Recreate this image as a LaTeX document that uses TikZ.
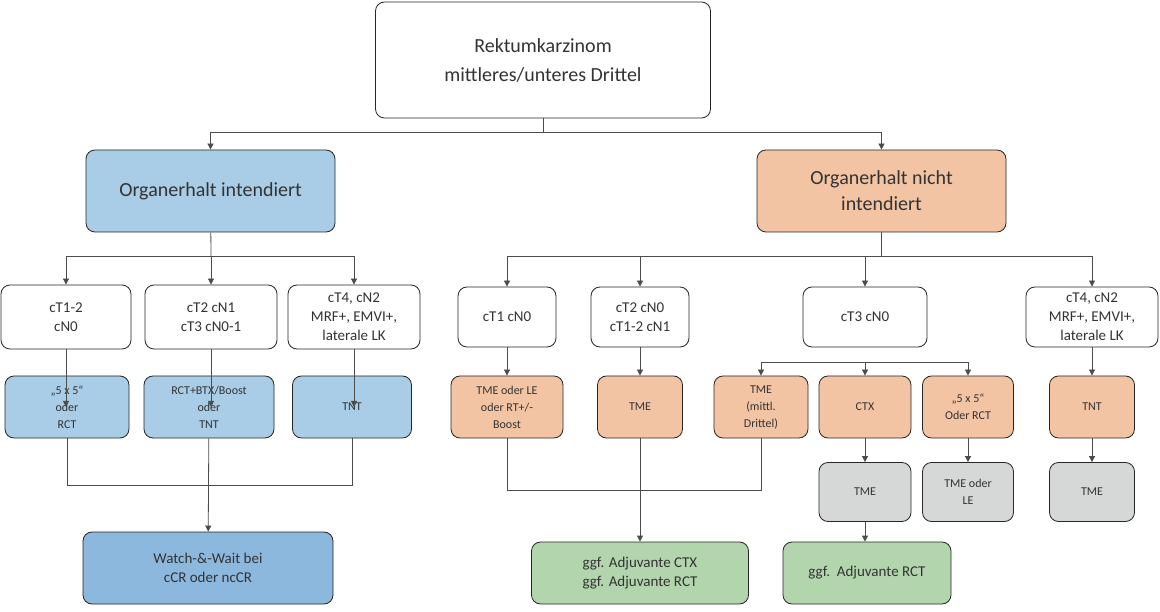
\documentclass[tikz,border=0pt]{standalone}
\usepackage{fontspec}
\setmainfont{Carlito}
\usetikzlibrary{arrows.meta}
\definecolor{lblue}{HTML}{A9CDE6}
\definecolor{dblue}{HTML}{8DB8DD}
\definecolor{salmon}{HTML}{F3C4A4}
\definecolor{lgray}{HTML}{D6D7D7}
\definecolor{lgreen}{HTML}{B3D5AE}
\begin{document}
\begin{tikzpicture}[x=1pt,y=-1pt,
                box node/.style={draw=black!85,thick,rounded corners=9pt,align=center,inner sep=1pt,font=\fontsize{15}{19}\selectfont,text=black!80},
                small node/.style={box node,font=\fontsize{12}{17}\selectfont},
                conn/.style={draw=black!70,line width=0.8pt},
                arr/.style={conn,-{Triangle[length=6pt,width=6pt]}},
                ]
                \useasboundingbox (0,0) rectangle (1160,612);
                % top and main split
                \node[box node, fill=white, minimum width=335pt, minimum height=116pt, font=\fontsize{20}{29}\selectfont] (top) at (543,60) {Rektumkarzinom\\mittleres/unteres Drittel};
                \node[box node, fill=lblue, minimum width=249pt, minimum height=82pt, font=\fontsize{20}{26}\selectfont] (keep) at (210.5,191) {Organerhalt intendiert};
                \node[box node, fill=salmon, minimum width=249pt, minimum height=82pt, font=\fontsize{20}{26}\selectfont] (nokeep) at (881.5,191) {Organerhalt nicht\\intendiert};
                \coordinate (t0) at (543,132);
                \draw[conn] (top) -- (t0);
                \draw[arr] (t0) -| (keep);
                \draw[arr] (t0) -| (nokeep);
                
                % left branch
                \node[box node, fill=white, minimum width=130pt, minimum height=64pt] (l1) at (66,317) {cT1-2\\cN0};
                \node[box node, fill=white, minimum width=132pt, minimum height=64pt] (l2) at (211,317) {cT2 cN1\\cT3 cN0-1};
                \node[box node, fill=white, minimum width=132pt, minimum height=64pt] (l3) at (354,317) {cT4, cN2\\MRF+, EMVI+,\\laterale LK};
                \coordinate (ls) at (211,256);
                \draw[conn] (keep) -- (ls);
                \draw[arr] (ls) -| (l1);
                \draw[arr] (ls) -- (l2);
                \draw[arr] (ls) -| (l3);
                \node[small node, fill=lblue, minimum width=124pt, minimum height=62pt] (b1) at (67,407) {„5 x 5“\\oder\\RCT};
                \node[small node, fill=lblue, minimum width=130pt, minimum height=62pt] (b2) at (209,407) {RCT+BTX/Boost\\oder\\TNT};
                \node[small node, fill=lblue, minimum width=119pt, minimum height=62pt] (b3) at (352,407) {TNT};
                \draw[arr] (l1) -- (b1 -| l1);
                \draw[arr] (l2) -- (b2 -| l2);
                \draw[arr] (l3) -- (b3 -| l3);
                \node[box node, fill=dblue, minimum width=250pt, minimum height=72pt] (ww) at (208,568) {Watch-\&-Wait bei\\cCR oder ncCR};
                \coordinate (lm) at (208,485);
                \draw[conn] (b1) |- (b3 |- lm) -- (b3);
                \draw[arr] (b2) -- (ww);
                
                % right branch
                \node[box node, fill=white, minimum width=98pt, minimum height=60pt] (r1) at (507,317) {cT1 cN0};
                \node[box node, fill=white, minimum width=98pt, minimum height=60pt] (r2) at (640,317) {cT2 cN0\\cT1-2 cN1};
                \node[box node, fill=white, minimum width=124pt, minimum height=60pt] (r3) at (865,317) {cT3 cN0};
                \node[box node, fill=white, minimum width=132pt, minimum height=60pt] (r4) at (1092,317) {cT4, cN2\\MRF+, EMVI+,\\laterale LK};
                \coordinate (rs) at (881.5,256);
                \draw[conn] (nokeep) -- (rs);
                \draw[arr] (rs) -| (r1);
                \draw[arr] (rs) -| (r2);
                \draw[arr] (rs) -| (r3);
                \draw[arr] (rs) -| (r4);
                \node[small node, fill=salmon, minimum width=112pt, minimum height=62pt] (s1) at (507,407) {TME oder LE\\oder RT+/-\\Boost};
                \node[small node, fill=salmon, minimum width=85pt, minimum height=62pt] (s2) at (640,407) {TME};
                \node[small node, fill=salmon, minimum width=94pt, minimum height=62pt] (s3) at (761,407) {TME\\(mittl.\\Drittel)};
                \node[small node, fill=salmon, minimum width=92pt, minimum height=62pt] (s4) at (865,407) {CTX};
                \node[small node, fill=salmon, minimum width=91pt, minimum height=62pt] (s5) at (968,407) {„5 x 5“\\Oder RCT};
                \node[small node, fill=salmon, minimum width=85pt, minimum height=62pt] (s6) at (1092,407) {TNT};
                \draw[arr] (r1) -- (s1);
                \draw[arr] (r2) -- (s2);
                \coordinate (rt) at (865,362);
                \draw[arr] (rt) -- (s4);
                \draw[arr] (rt) -| (s3);
                \draw[arr] (rt) -| (s5);
                \draw[arr] (r4) -- (s6);
                \node[small node, fill=lgray, minimum width=92pt, minimum height=59pt] (g1) at (865,492) {TME};
                \node[small node, fill=lgray, minimum width=91pt, minimum height=59pt] (g2) at (968,492) {TME oder\\LE};
                \node[small node, fill=lgray, minimum width=85pt, minimum height=59pt] (g3) at (1092,492) {TME};
                \draw[arr] (s4) -- (g1);
                \draw[arr] (s5) -- (g2);
                \draw[arr] (s6) -- (g3);
                \node[box node, fill=lgreen, minimum width=217pt, minimum height=62pt] (gr1) at (640,573) {ggf. Adjuvante CTX\\ggf. Adjuvante RCT};
                \node[box node, fill=lgreen, minimum width=168pt, minimum height=62pt] (gr2) at (867,573) {ggf.\ \ Adjuvante RCT};
                \coordinate (rm) at (640,490);
                \draw[conn] (s1) |- (s3 |- rm) -- (s3);
                \draw[arr] (s2) -- (gr1);
                \draw[arr] (g1) -- (g1 |- gr2.north);
            \end{tikzpicture}
\end{document}
